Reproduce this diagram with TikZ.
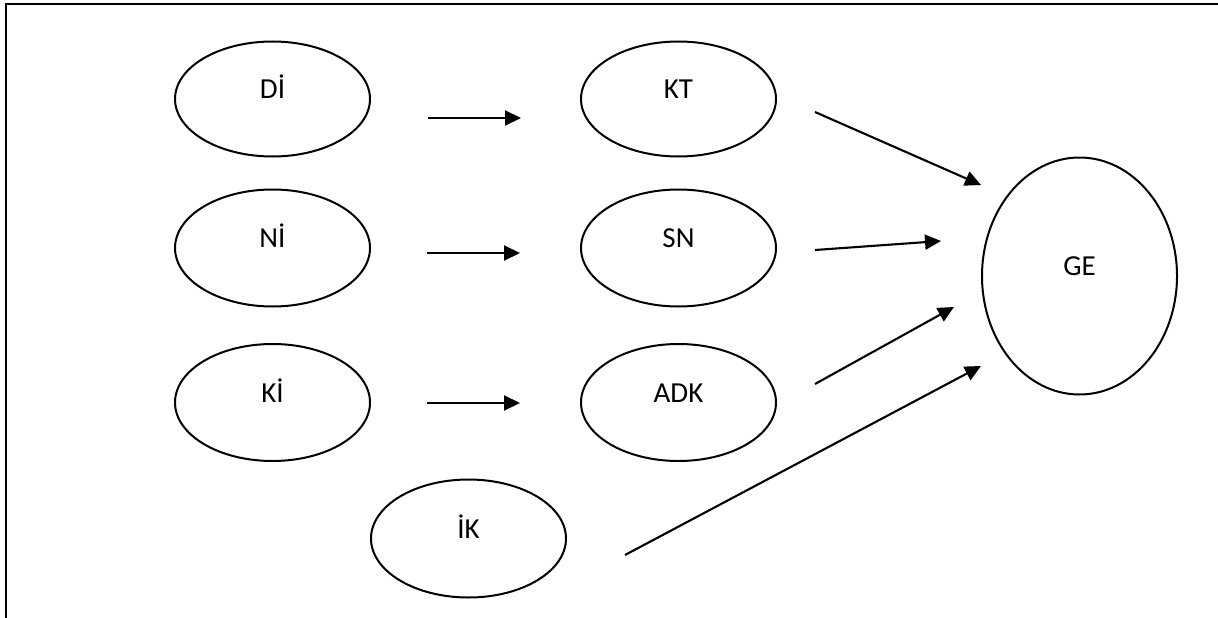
\documentclass[tikz,border=0pt]{standalone}
\usepackage{fontspec}
\setmainfont{Carlito}
\usetikzlibrary{shapes.geometric,arrows.meta}
\begin{document}
\begin{tikzpicture}[x=1pt,y=-1pt,
  oval/.style={draw,line width=2pt,ellipse,inner sep=0pt,
    minimum width=195pt,minimum height=115pt,
    text height=10pt,text depth=11pt,
    font=\fontsize{29}{35}\selectfont},
  arr/.style={line width=2.1pt,-{Triangle[length=16pt,width=15pt]}},
  frame/.style={line width=2.2pt}]
\useasboundingbox (0,0) rectangle (1218,618);
% frame (top and left sides)
\coordinate (fbl) at (6,618);
\coordinate (ftl) at (6,3.7);
\coordinate (ftr) at (1218,3.7);
\draw[frame] (fbl) -- (ftl) -- (ftr);
% ellipses
\node[oval] (DI)  at (272.5,99)    {Dİ};
\node[oval] (KT)  at (678.5,99)    {KT};
\node[oval,minimum height=117pt] (NI)  at (272.5,248)   {Nİ};
\node[oval,minimum height=117pt] (SN)  at (678.5,248)   {SN};
\node[oval,minimum height=117pt] (KI)  at (272.5,402.5) {Kİ};
\node[oval,minimum height=117pt] (ADK) at (678.5,402.5) {ADK};
\node[oval,minimum height=118pt] (IK)  at (468.5,538.5) {İK};
\node[oval,minimum height=237pt] (GE)  at (1079.5,276)  {GE};
% arrow end points
\coordinate (a1s) at (428,118);   \coordinate (a1e) at (521,118);
\coordinate (a2s) at (427,253);   \coordinate (a2e) at (520,253);
\coordinate (a3s) at (427,403);   \coordinate (a3e) at (520,403);
\coordinate (a4s) at (815,112);   \coordinate (a4e) at (981,185);
\coordinate (a5s) at (815,250);   \coordinate (a5e) at (941,241);
\coordinate (a6s) at (815,384);   \coordinate (a6e) at (954,307);
\coordinate (a7s) at (625,555);   \coordinate (a7e) at (981,366);
\draw[arr] (a1s) -- (a1e);
\draw[arr] (a2s) -- (a2e);
\draw[arr] (a3s) -- (a3e);
\draw[arr] (a4s) -- (a4e);
\draw[arr] (a5s) -- (a5e);
\draw[arr] (a6s) -- (a6e);
\draw[arr] (a7s) -- (a7e);
\end{tikzpicture}
\end{document}
